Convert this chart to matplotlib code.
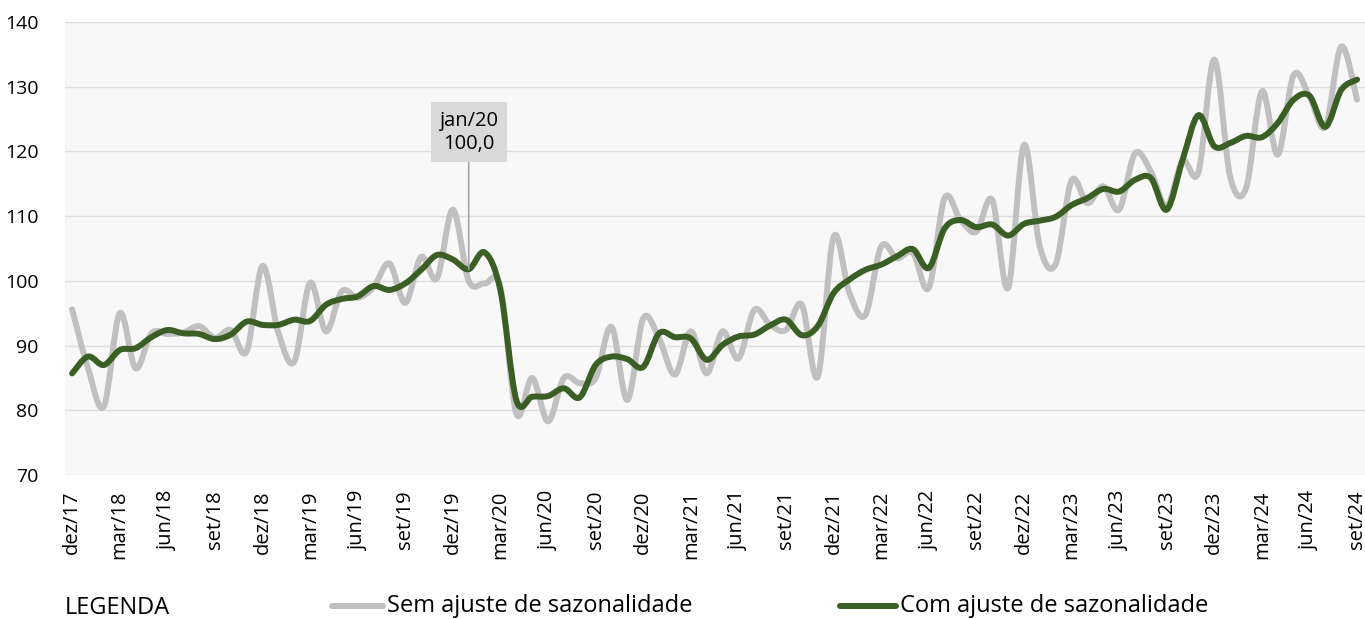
import matplotlib
matplotlib.use("Agg")
import matplotlib.pyplot as plt
from matplotlib.path import Path
from matplotlib.patches import PathPatch
from matplotlib.lines import Line2D

plt.rcParams['font.family'] = ['Open Sans', 'DejaVu Sans']

# monthly index, dez/17 .. set/24
sem_ajuste = [95.6, 86.5, 80.6, 95.0, 86.5, 91.9, 91.8, 92.0, 93.0, 91.2,
              92.4, 89.1, 102.3, 92.0, 87.5, 99.7, 92.2, 98.4, 97.4, 99.0,
              102.7, 96.6, 103.7, 100.4, 111.0, 100.0, 99.6, 99.0, 79.5, 85.0,
              78.3, 85.0, 84.2, 85.0, 92.9, 81.6, 94.2, 91.1, 85.5, 92.2,
              85.7, 92.2, 88.0, 95.5, 93.2, 92.4, 96.3, 85.2, 106.8, 98.1,
              94.7, 105.3, 103.5, 104.3, 98.9, 112.8, 109.4, 107.6, 112.5, 98.9,
              121.0, 105.3, 102.6, 115.5, 112.0, 114.6, 111.0, 119.7, 116.9, 111.5,
              118.5, 116.8, 134.2, 116.1, 114.3, 129.3, 119.5, 131.8, 128.5, 123.8,
              136.2, 128.0]
com_ajuste = [85.7, 88.3, 87.0, 89.3, 89.6, 91.3, 92.4, 91.9, 91.8, 91.0,
              91.7, 93.7, 93.2, 93.2, 94.0, 93.8, 96.3, 97.2, 97.6, 99.2,
              98.6, 99.6, 101.7, 104.0, 103.3, 101.8, 104.4, 98.5, 81.6, 82.1,
              82.2, 83.4, 82.0, 87.0, 88.3, 87.9, 86.7, 91.9, 91.3, 91.1,
              87.8, 90.1, 91.4, 91.7, 93.1, 94.0, 91.6, 93.0, 98.1, 100.2,
              101.7, 102.5, 103.8, 104.9, 102.0, 108.1, 109.4, 108.3, 108.7, 107.0,
              108.8, 109.3, 109.9, 111.7, 112.8, 114.2, 113.8, 115.6, 115.9, 111.0,
              118.7, 125.6, 120.8, 121.3, 122.4, 122.2, 124.4, 128.0, 128.6, 123.8,
              129.5, 131.1]
tick_labels = ['dez/17', 'mar/18', 'jun/18', 'set/18', 'dez/18', 'mar/19', 'jun/19',
               'set/19', 'dez/19', 'mar/20', 'jun/20', 'set/20', 'dez/20', 'mar/21',
               'jun/21', 'set/21', 'dez/21', 'mar/22', 'jun/22', 'set/22', 'dez/22',
               'mar/23', 'jun/23', 'set/23', 'dez/23', 'mar/24', 'jun/24', 'set/24']
destaque_idx = 25
destaque_txt = 'jan/20\n100,0'

GRAY = '#c0c0c0'
GREEN = '#3a5e23'


def smooth_path(xs, ys):
    # catmull-rom style bezier, like excel "smoothed line"
    n = len(xs)
    verts = [(xs[0], ys[0])]
    codes = [Path.MOVETO]
    for i in range(n - 1):
        a = max(i - 1, 0)
        d = min(i + 2, n - 1)
        c1 = (xs[i] + (xs[i + 1] - xs[a]) / 6, ys[i] + (ys[i + 1] - ys[a]) / 6)
        c2 = (xs[i + 1] - (xs[d] - xs[i]) / 6, ys[i + 1] - (ys[d] - ys[i]) / 6)
        verts += [c1, c2, (xs[i + 1], ys[i + 1])]
        codes += [Path.CURVE4] * 3
    return Path(verts, codes)


fig = plt.figure(figsize=(13.65, 6.19), dpi=100)
ax = fig.add_axes([65 / 1365, 1 - 475 / 619, 1 - 65 / 1365, (475 - 22) / 619])
ax.set_facecolor('#f8f8f8')

x = list(range(len(sem_ajuste)))
ax.add_patch(PathPatch(smooth_path(x, sem_ajuste), fill=False, edgecolor=GRAY,
                       lw=4.3, capstyle='round', joinstyle='round', zorder=3))
ax.add_patch(PathPatch(smooth_path(x, com_ajuste), fill=False, edgecolor=GREEN,
                       lw=4.3, capstyle='round', joinstyle='round', zorder=4))

ax.set_xlim(-0.45, len(x) - 1 + 0.5)
ax.set_ylim(70, 140)
ax.set_yticks(range(70, 141, 10))
ax.yaxis.grid(True, color='#dedede', lw=1)
ax.set_axisbelow(True)
ax.set_xticks(range(0, len(x), 3))
ax.set_xticklabels(tick_labels, rotation=90, fontsize=14.5)
ax.tick_params(axis='x', length=0, pad=11)
ax.tick_params(axis='y', length=0, pad=19, labelsize=14)
for s in ax.spines.values():
    s.set_visible(False)

ax.annotate(destaque_txt, xy=(destaque_idx, com_ajuste[destaque_idx]),
            xytext=(destaque_idx, 123), textcoords='data',
            ha='center', va='center', fontsize=14.5, linespacing=1.2,
            bbox=dict(boxstyle='square,pad=0.42', fc='#d9d9d9', ec='none'),
            arrowprops=dict(arrowstyle='-', color='#a6a6a6', lw=1.2,
                            shrinkA=0, shrinkB=0), zorder=6)

# legend along the bottom
fig.text(65 / 1365, 1 - 608 / 619, 'LEGENDA', fontsize=17, va='center', ha='left')
fig.add_artist(Line2D([332 / 1365, 383 / 1365], [1 - 606 / 619] * 2, color=GRAY,
                      lw=4.3, solid_capstyle='round'))
fig.text(387 / 1365, 1 - 606 / 619, 'Sem ajuste de sazonalidade', fontsize=17,
         va='center', ha='left')
fig.add_artist(Line2D([840 / 1365, 896 / 1365], [1 - 606 / 619] * 2, color=GREEN,
                      lw=4.3, solid_capstyle='round'))
fig.text(900 / 1365, 1 - 606 / 619, 'Com ajuste de sazonalidade', fontsize=17,
         va='center', ha='left')

fig.savefig('out.png', dpi=100)
